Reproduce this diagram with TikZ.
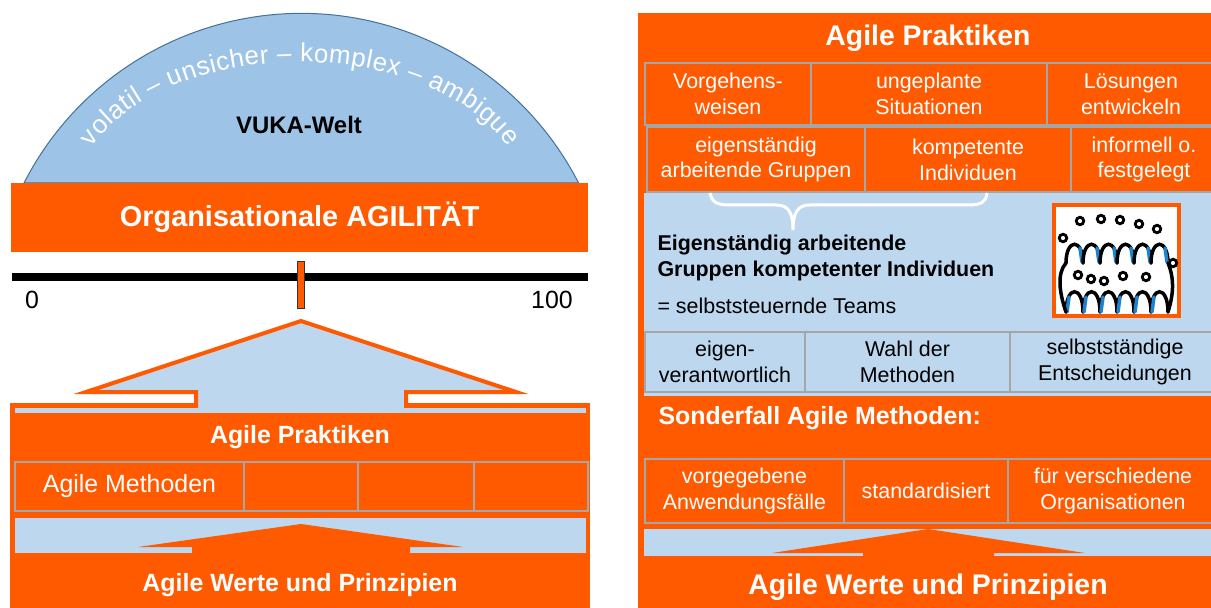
\documentclass[tikz,border=0pt]{standalone}
\usepackage{fontspec}
\setmainfont{Liberation Sans}
\usetikzlibrary{positioning,decorations.text}
\definecolor{agiorange}{RGB}{255,90,0}
\definecolor{agiblue}{RGB}{189,215,238}
\definecolor{vukablue}{RGB}{157,195,230}
\definecolor{vukaline}{RGB}{65,113,156}
\definecolor{cellgray}{RGB}{166,166,166}
\definecolor{teamblue}{RGB}{30,130,205}
\newcommand\cellfont{\fontsize{21.5}{26}\selectfont}
\newcommand\midfont{\fontsize{25}{30}\selectfont}
\tikzset{cell/.style={draw=cellgray,line width=2.5bp,fill=agiorange,text=white,font=\cellfont,align=center,inner sep=0pt,outer sep=0pt,node distance=0pt},
  bcell/.style={cell,fill=agiblue,text=black},
  title/.style={text=white,font=\bfseries\fontsize{#1}{#1}\selectfont},
  head/.style={draw,circle,line width=2.8bp,inner sep=0pt,minimum size=7.5bp},
  pen/.style={line width=3.5bp,line cap=round}}

\begin{document}
\begin{tikzpicture}[x=1bp,y=-1bp]
  \useasboundingbox (0,0) rectangle (1211,608);
  \clip (0,0) rectangle (1211,608);

  % VUKA world
  \filldraw[fill=vukablue,draw=vukaline,line width=1bp] (24,183) arc[start angle=-152.9,end angle=-27.1,radius=311.5] -- cycle;
  \path[decorate,decoration={text along path,text color=white,text align={fit to path},
      text={|\fontsize{26}{26}\selectfont|volatil – unsicher – komplex – ambigue}}]
    (92.13,147.19) arc[start angle=-157.5,end angle=-22.5,x radius=225,y radius=138];
  \node (vuka) [font=\bfseries\fontsize{24}{24}\selectfont] at (299,125) {VUKA-Welt};
  \node (agil) [fill=agiorange,title=29,minimum width=577bp,minimum height=69bp,inner sep=0pt,anchor=north west] at (11,183) {Organisationale AGILITÄT};

  % scale 0 .. 100
  \fill (12,273) rectangle (588,281);
  \node (mark) [draw=black!80,fill=agiorange,line width=1bp,minimum width=7bp,minimum height=46bp,inner sep=0pt] at (300.5,285) {};
  \node (lo) [font=\midfont] at (32,300) {0};
  \node (hi) [font=\midfont] at (552,300) {100};

  % left house
  \fill[agiorange] (10,403) rectangle (590,608);
  \filldraw[fill=agiblue,draw=agiorange,line width=4bp] (196,409) -- (196,392) -- (86,392) -- (301,321) -- (516,392) -- (406,392) -- (406,409);
  \fill[agiblue] (15,408) rectangle (586,413);
  \node (praxL) [title=25] at (300,437) {Agile Praktiken};
  \node (m1) [cell,font=\midfont,minimum width=229bp,minimum height=49bp,anchor=north west] at (15,462) {Agile Methoden};
  \foreach \i/\j/\w in {2/1/114, 3/2/116, 4/3/114}
    {\node (m\i) [cell,minimum width=\w bp,minimum height=49bp,right=of m\j] {};}
  \fill[agiblue] (15,518) rectangle (586,553);
  \fill[agiorange] (192,554) -- (192,547) -- (138,547) -- (301,524) -- (463,547) -- (410,547) -- (410,554) -- cycle;
  \node (werteL) [title=25] at (300,585) {Agile Werte und Prinzipien};

  % right house
  \fill[agiorange] (638,13) rectangle (1215,608);
  \fill[agiblue] (644,193) rectangle (1215,396);
  \node (praxR) [title=28.5] at (928,38) {Agile Praktiken};

  % row 1
  \node (a1) [cell,minimum width=166bp,minimum height=62bp,anchor=north west] at (645,63) {Vorgehens-\\weisen};
  \node (a2) [cell,minimum width=236bp,minimum height=62bp,right=of a1] {ungeplante\\Situationen};
  \node (a3) [cell,minimum width=168bp,minimum height=62bp,right=of a2] {Lösungen\\entwickeln};
  % row 2
  \node (b1) [cell,minimum width=218bp,minimum height=65bp,anchor=north west] at (647,127) {eigenständig\\arbeitende Gruppen};
  \node (b2) [cell,minimum width=206bp,minimum height=65bp,right=of b1] {kompetente\\Individuen};
  \node (b3) [cell,minimum width=146bp,minimum height=65bp,right=of b2] {informell o.\\festgelegt};

  % brace + teams
  \draw[white,line width=3bp] (710,193) .. controls (712,203) and (718,205) .. (730,205) -- (776,205)
    .. controls (788,205) and (793,212) .. (793,230) .. controls (793,212) and (798,205) .. (810,205)
    -- (968,205) .. controls (980,205) and (986,203) .. (987,193);
  \node (selbst) [anchor=west,align=left,font=\bfseries\fontsize{21.5}{27}\selectfont] at (654,258) {Eigenständig arbeitende\\Gruppen kompetenter Individuen};
  \node (teams) [anchor=west,font=\cellfont] at (654,306) {= selbststeuernde Teams};

  % team icon
  \node (icon) [draw=agiorange,fill=white,line width=4bp,minimum width=125bp,minimum height=111bp,inner sep=0pt] at (1116.5,260.5) {};
  \foreach \x/\y [count=\k] in {1080/221,1101/219,1120/220,1139/224,1157/229,1063/238,1173/263,1078/275,1091/279,1104/281,1123/276,1146/277}
    {\node (head\k) [head] at (\x,\y) {};}
  \foreach \k in {0,...,5}
    {\draw[pen] (1066+17*\k,263) .. controls (1066+17*\k,238) and (1083+17*\k,238) .. (1083+17*\k,263);
     \draw[pen,teamblue] (1080+17*\k,248) -- (1082+17*\k,262);
     \draw[pen] (1066+17*\k,312) .. controls (1066+17*\k,285) and (1083+17*\k,285) .. (1083+17*\k,312);
     \draw[pen,teamblue] (1069+17*\k,297) -- (1067+17*\k,312);}
  \draw[pen] (1066,263) .. controls (1057,273) and (1059,292) .. (1066,312);
  \draw[pen] (1168,263) .. controls (1175,280) and (1173,296) .. (1168,312);

  % row 3
  \node (c1) [bcell,minimum width=160bp,minimum height=60bp,anchor=north west] at (645,332) {eigen-\\verantwortlich};
  \node (c2) [bcell,minimum width=205bp,minimum height=60bp,right=of c1] {Wahl der\\Methoden};
  \node (c3) [bcell,minimum width=210bp,minimum height=60bp,right=of c2] {selbstständige\\Entscheidungen};

  % special case
  \node (sonder) [anchor=west,text=white,font=\bfseries\midfont] at (655,418) {Sonderfall Agile Methoden:};
  \node (d1) [cell,minimum width=199bp,minimum height=64bp,anchor=north west] at (645,459) {vorgegebene\\Anwendungsfälle};
  \node (d2) [cell,minimum width=164bp,minimum height=64bp,right=of d1] {standardisiert};
  \node (d3) [cell,minimum width=210bp,minimum height=64bp,right=of d2] {für verschiedene\\Organisationen};

  \fill[agiblue] (644,529) rectangle (1215,556);
  \fill[agiorange] (863,557) -- (863,553) -- (772,553) -- (928,529) -- (1085,553) -- (994,553) -- (994,557) -- cycle;
  \node (werteR) [title=28.5] at (928,587) {Agile Werte und Prinzipien};
\end{tikzpicture}
\end{document}
